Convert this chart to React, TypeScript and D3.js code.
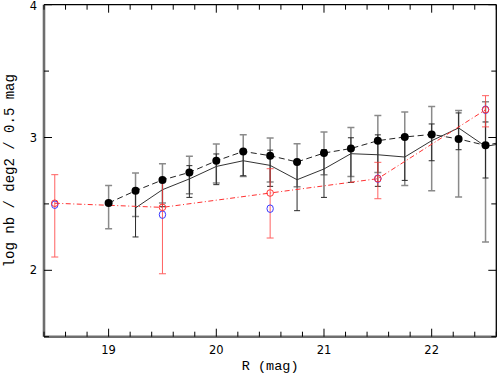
import React from 'react'
import * as d3 from 'd3'

// counts per magnitude bin
const magA = [19, 19.25, 19.5, 19.75, 20, 20.25, 20.5, 20.75, 21, 21.25, 21.5, 21.75, 22, 22.25, 22.5, 22.75]
const logA = [2.507, 2.599, 2.68, 2.737, 2.824, 2.895, 2.863, 2.816, 2.883, 2.917, 2.976, 3.004, 3.023, 2.989, 2.941, 2.98]
const hiA = [2.639, 2.733, 2.803, 2.858, 2.951, 3.021, 2.996, 2.953, 3.041, 3.076, 3.166, 3.192, 3.234, 3.204, 3.27, null]
const loA = [2.313, 2.406, 2.507, 2.577, 2.657, 2.707, 2.665, 2.63, 2.72, 2.707, 2.737, 2.639, 2.599, 2.552, 2.213, null]

const magB = [19.25, 19.5, 19.75, 20, 20.25, 20.5, 20.75, 21, 21.25, 21.5, 21.75, 22, 22.25, 22.5, 22.75]
const logB = [2.47, 2.607, 2.688, 2.782, 2.825, 2.79, 2.682, 2.763, 2.878, 2.87, 2.853, 2.976, 3.072, 2.933, 2.968]
const hiB = [2.607, 2.69, 2.788, 2.876, 2.908, 2.905, 2.833, 2.908, 2.998, 3.02, 3.006, 3.102, 3.185, 3.117, null]
const loB = [2.251, 2.479, 2.549, 2.645, 2.712, 2.632, 2.449, 2.549, 2.662, 2.632, 2.677, 2.825, 2.908, 2.695, null]

const magRed = [18.5, 19.5, 20.5, 21.5, 22.5]
const logRed = [2.505, 2.474, 2.582, 2.69, 3.209]
const hiRed = [2.72, 2.69, 2.765, 2.813, 3.315]
const loRed = [2.1, 1.974, 2.243, 2.539, 3.08]
const logBlue = [2.494, 2.419, 2.464, 2.69, 3.209]

const xMajor = [19, 20, 21, 22]
const yMajor = [2, 3, 4]

const W = 497
const H = 376
const mono = '"Liberation Mono", "DejaVu Sans Mono", monospace'

const x = d3.scaleLinear().domain([18.4, 22.6]).range([44, 496.3])
const y = d3.scaleLinear().domain([1.5, 4]).range([336.7, 4.7])

function ErrBars({ mags, hi, lo, color, width, cap, opacity = 1 }) {
  return (
    <g stroke={color} strokeWidth={width} opacity={opacity} fill="none">
      {mags.map((m, i) => {
        if (hi[i] == null) return null
        const cx = x(m)
        return (
          <g key={i}>
            <line x1={cx} x2={cx} y1={y(hi[i])} y2={y(lo[i])} />
            <line x1={cx - cap} x2={cx + cap} y1={y(hi[i])} y2={y(hi[i])} />
            <line x1={cx - cap} x2={cx + cap} y1={y(lo[i])} y2={y(lo[i])} />
          </g>
        )
      })}
    </g>
  )
}

export default function App() {
  const line = d3.line<number>()
  const ptsA = magA.map((m, i) => [x(m), y(logA[i])] as [number, number])
  const ptsB = magB.map((m, i) => [x(m), y(logB[i])] as [number, number])
  const ptsR = magRed.map((m, i) => [x(m), y(logRed[i])] as [number, number])

  const xMinor = d3.range(18.4, 22.61, 0.2).filter(v => !xMajor.some(t => Math.abs(t - v) < 1e-6))
  const yMinor = d3.range(1.5, 4.01, 0.5).filter(v => !yMajor.some(t => Math.abs(t - v) < 1e-6))
  const [x0, x1] = x.range()
  const [y0, y1] = y.range()

  return (
    <svg width={W} height={H} style={{ position: 'absolute', left: 0, top: 0, background: '#fff' }}>
      <defs>
        <clipPath id="plot">
          <rect x={x0} y={y1} width={x1 - x0} height={y0 - y1} />
        </clipPath>
      </defs>

      <g clipPath="url(#plot)">
        <ErrBars mags={magA} hi={hiA} lo={loA} color="#8a8a8a" width={1.5} cap={3.5} />
        <ErrBars mags={magB} hi={hiB} lo={loB} color="#2a2a2a" width={1} cap={3} />
        <path d={line(ptsB) || ''} fill="none" stroke="#333" strokeWidth={1} />
        <path d={line(ptsA) || ''} fill="none" stroke="#222" strokeWidth={1} strokeDasharray="6,3.5" />
        <ErrBars mags={magRed} hi={hiRed} lo={loRed} color="#ff3b3b" width={1} cap={3.5} opacity={0.8} />
        <path d={line(ptsR) || ''} fill="none" stroke="#ff3030" strokeWidth={1} strokeDasharray="5,2.5,1,2.5" />
        {ptsA.map((p, i) => (
          <circle key={i} cx={p[0]} cy={p[1]} r={4} fill="#000" />
        ))}
        {magRed.map((m, i) => (
          <ellipse key={'b' + i} cx={x(m)} cy={y(logBlue[i])} rx={3.2} ry={3.8} fill="none" stroke="#3a3aff" strokeWidth={1} />
        ))}
        {ptsR.map((p, i) => (
          <circle key={'r' + i} cx={p[0]} cy={p[1]} r={3.3} fill="none" stroke="#ff3333" strokeWidth={1} />
        ))}
      </g>

      {/* frame */}
      <line x1={x0} x2={x1} y1={y1} y2={y1} stroke="#000" strokeWidth={1.3} />
      <line x1={x1} x2={x1} y1={y1} y2={y0} stroke="#000" strokeWidth={1.3} />
      <line x1={x0} x2={x1} y1={y0} y2={y0} stroke="#6e6e6e" strokeWidth={2.6} />
      <line x1={x0} x2={x0} y1={y1} y2={y0} stroke="#6e6e6e" strokeWidth={2.6} />

      {/* ticks */}
      <g stroke="#000" strokeWidth={1}>
        {xMajor.map(v => (
          <g key={'xm' + v}>
            <line x1={x(v)} x2={x(v)} y1={y0} y2={y0 - 8} />
            <line x1={x(v)} x2={x(v)} y1={y1} y2={y1 + 8} />
          </g>
        ))}
        {xMinor.map(v => (
          <g key={'xn' + v}>
            <line x1={x(v)} x2={x(v)} y1={y0} y2={y0 - 5} />
            <line x1={x(v)} x2={x(v)} y1={y1} y2={y1 + 5} />
          </g>
        ))}
        {yMajor.map(v => (
          <g key={'ym' + v}>
            <line x1={x0} x2={x0 + 8} y1={y(v)} y2={y(v)} />
            <line x1={x1} x2={x1 - 8} y1={y(v)} y2={y(v)} />
          </g>
        ))}
        {yMinor.map(v => (
          <g key={'yn' + v}>
            <line x1={x0} x2={x0 + 5} y1={y(v)} y2={y(v)} />
            <line x1={x1} x2={x1 - 5} y1={y(v)} y2={y(v)} />
          </g>
        ))}
      </g>

      {/* tick labels */}
      <g fontFamily='"DejaVu Sans", sans-serif' fontSize={11.5} fill="#000">
        {xMajor.map(v => (
          <text key={'xl' + v} x={x(v)} y={354} textAnchor="middle">{v}</text>
        ))}
        {yMajor.map(v => (
          <text key={'yl' + v} x={37} y={Math.max(y(v) + 4, 10)} textAnchor="end">{v}</text>
        ))}
      </g>

      <text x={x(20.5)} y={370} textAnchor="middle" fontFamily={mono} fontSize={13.5}>R (mag)</text>
      <text
        transform={`translate(14,${(y0 + y1) / 2}) rotate(-90)`}
        textAnchor="middle"
        fontFamily={mono}
        fontSize={14}
      >
        log nb / deg2 / 0.5 mag
      </text>
    </svg>
  )
}
